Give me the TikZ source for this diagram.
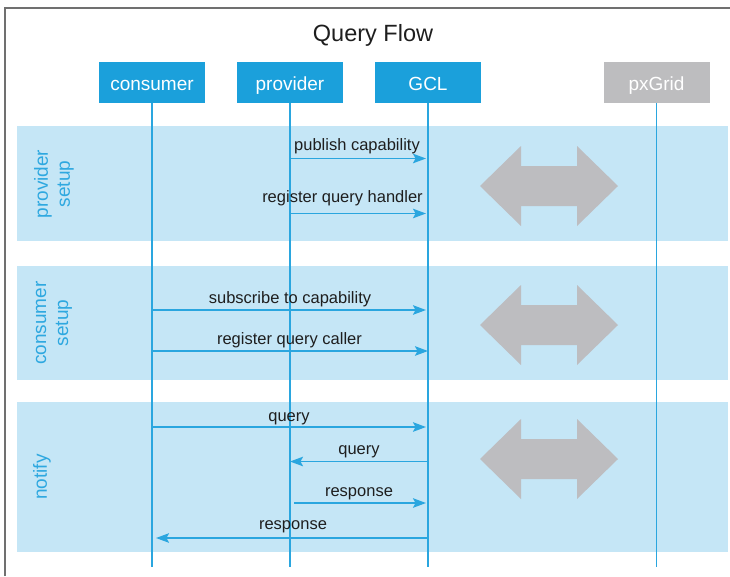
\documentclass[tikz,border=0pt]{standalone}
\usepackage{fontspec}
\setmainfont{Liberation Sans}
\usetikzlibrary{arrows.meta}
\definecolor{boxblue}{HTML}{1BA0DB}
\definecolor{lineblue}{HTML}{2AA6DF}
\definecolor{bandblue}{HTML}{C5E6F6}
\definecolor{boxgray}{HTML}{BDBDBF}
\definecolor{arrgray}{HTML}{BDBDC0}
\definecolor{labelblue}{HTML}{2EA8E0}
\definecolor{txt}{HTML}{1E1E1E}
\definecolor{framegray}{HTML}{707070}
\tikzset{
  actor/.style={fill=boxblue, draw=none, minimum width=106pt, minimum height=41pt,
    inner sep=0pt, text=white, font=\fontsize{19}{22}\selectfont, text height=16pt, text depth=1pt},
  grayactor/.style={actor, fill=boxgray},
  band/.style={fill=bandblue, draw=none},
  lifeline/.style={draw=lineblue, line width=1.5pt},
  msg/.style={draw=lineblue, line width=1.6pt, -{Stealth[length=13pt,width=9.5pt,inset=2.5pt]}},
  msglabel/.style={anchor=base, inner sep=0pt, text=txt, font=\fontsize{16.5}{20}\selectfont},
  bandlabel/.style={rotate=90, align=center, inner sep=0pt, text=labelblue,
    font=\fontsize{19}{22}\selectfont},
  dblarrow/.pic={\fill[arrgray] (-69,0) -- (-28,-40) -- (-28,-20) -- (28,-20) -- (28,-40)
     -- (69,0) -- (28,40) -- (28,20) -- (-28,20) -- (-28,40) -- cycle;}
}
\begin{document}
\begin{tikzpicture}[x=1pt,y=-1pt]
\useasboundingbox (0,0) rectangle (730,576);
\fill[white] (0,0) rectangle (730,576);
% frame
\draw[framegray, line width=1.5pt] (5,576) -- (5,8) -- (730,8);
% title
\node[anchor=base, inner sep=0pt, text=txt, font=\fontsize{23.5}{28}\selectfont] (title) at (373,41) {Query Flow};
% bands
\fill[band] (17,126) rectangle (728,241);
\fill[band] (17,266) rectangle (728,380);
\fill[band] (17,402) rectangle (728,552);
% actors
\node[actor] (cons) at (152,82.5) {consumer};
\node[actor] (prov) at (290,82.5) {provider};
\node[actor] (gcl) at (428,82.5) {GCL};
\node[grayactor] (pxg) at (656.5,82.5) {pxGrid};
% lifeline ends
\coordinate (consE) at (152,567);
\coordinate (provE) at (290,567);
\coordinate (gclE) at (428,567);
\coordinate (pxgE) at (656.5,567);
\draw[lifeline] (cons.south) -- (consE);
\draw[lifeline] (prov.south) -- (provE);
\draw[lifeline] (gcl.south) -- (gclE);
\draw[lifeline] (pxg.south) -- (pxgE);
% message end points
\coordinate (a1s) at (290,158.5); \coordinate (a1e) at (426,158.5);
\coordinate (a2s) at (290,213.5); \coordinate (a2e) at (426,213.5);
\coordinate (a3s) at (152,310); \coordinate (a3e) at (426,310);
\coordinate (a4s) at (152,351); \coordinate (a4e) at (428,351);
\coordinate (a5s) at (152,427); \coordinate (a5e) at (426,427);
\coordinate (a6s) at (428,461.5); \coordinate (a6e) at (290,461.5);
\coordinate (a7s) at (294,503); \coordinate (a7e) at (426,503);
\coordinate (a8s) at (428,538); \coordinate (a8e) at (156,538);
\draw[msg] (a1s) -- (a1e);
\draw[msg] (a2s) -- (a2e);
\draw[msg] (a3s) -- (a3e);
\draw[msg] (a4s) -- (a4e);
\draw[msg] (a5s) -- (a5e);
\draw[msg] (a6s) -- (a6e);
\draw[msg] (a7s) -- (a7e);
\draw[msg] (a8s) -- (a8e);
% message labels
\node[msglabel] (l1) at (357,150) {publish capability};
\node[msglabel] (l2) at (342.5,202) {register query handler};
\node[msglabel] (l3) at (290,303) {subscribe to capability};
\node[msglabel] (l4) at (289.5,344) {register query caller};
\node[msglabel] (l5) at (289,421) {query};
\node[msglabel] (l6) at (359,454) {query};
\node[msglabel] (l7) at (359,496) {response};
\node[msglabel] (l8) at (293,529) {response};
% gray double arrows
\pic at (549,186) {dblarrow};
\pic at (549,325) {dblarrow};
\pic at (549,459) {dblarrow};
% band labels
\node[bandlabel] (b1) at (54,184) {provider\\setup};
\node[bandlabel] (b2) at (54,323) {consumer\\setup};
\node[bandlabel] (b3) at (42,477) {notify};
\end{tikzpicture}
\end{document}
